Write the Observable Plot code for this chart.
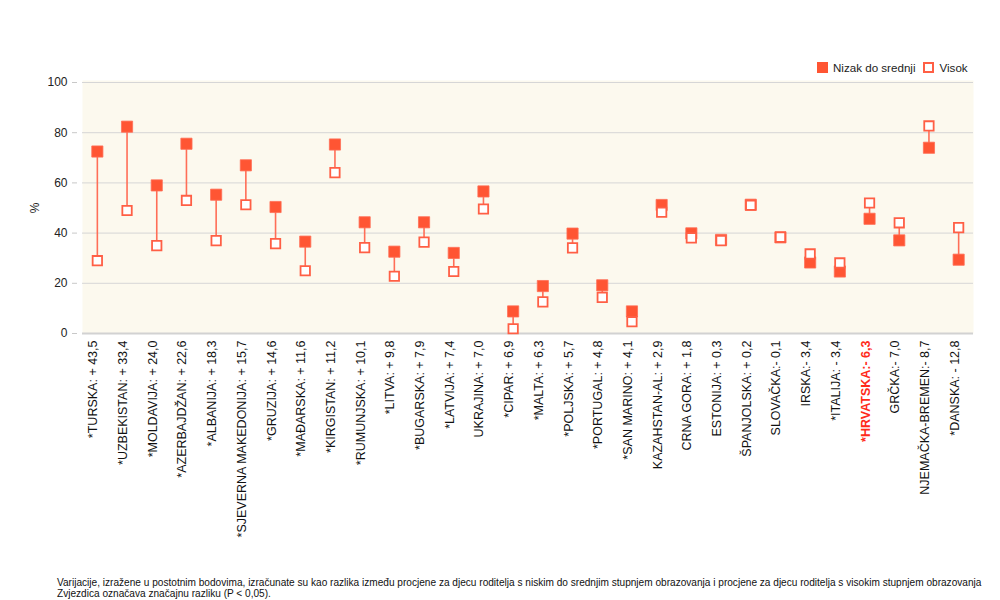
<!DOCTYPE html>
<html>
<head>
<meta charset="utf-8">
<script src="https://cdn.jsdelivr.net/npm/d3@7"></script>
<script src="https://cdn.jsdelivr.net/npm/@observablehq/plot@0.6"></script>
<style>
  body { margin: 0; background: #fff; font-family: "Liberation Sans", Arial, sans-serif; }
  #wrap { position: relative; width: 1000px; height: 600px; }
  #legend { position: absolute; top: 61px; left: 817px; font-size: 11.6px; color: #222; display: flex; align-items: center; white-space: nowrap; }
  .sw { display: inline-block; width: 11px; height: 11px; box-sizing: border-box; margin-right: 5px; }
  #footer { position: absolute; left: 57px; top: 577px; font-size: 10.1px; line-height: 11px; color: #111; white-space: nowrap; }
</style>
</head>
<body>
<div id="wrap">
  <div id="chart"></div>
  <div id="legend">
    <span class="sw" style="background:#FF5533"></span><span>Nizak do srednji</span>
    <span class="sw" style="border:2px solid #FF5F45;background:#fff;margin-left:8px"></span><span>Visok</span>
  </div>
  <div id="footer">Varijacije, izražene u postotnim bodovima, izračunate su kao razlika između procjene za djecu roditelja s niskim do srednjim stupnjem obrazovanja i procjene za djecu roditelja s visokim stupnjem obrazovanja<br>Zvjezdica označava značajnu razliku (P &lt; 0,05).</div>
</div>
<script>
const labels = [
  "*TURSKA: + 43,5", "*UZBEKISTAN: + 33,4", "*MOLDAVIJA: + 24,0", "*AZERBAJDŽAN: + 22,6",
  "*ALBANIJA: + 18,3", "*SJEVERNA MAKEDONIJA: + 15,7", "*GRUZIJA: + 14,6", "*MAĐARSKA: + 11,6",
  "*KIRGISTAN: + 11,2", "*RUMUNJSKA: + 10,1", "*LITVA: + 9,8", "*BUGARSKA: + 7,9",
  "*LATVIJA: + 7,4", "UKRAJINA: + 7,0", "*CIPAR: + 6,9", "*MALTA: + 6,3",
  "*POLJSKA: + 5,7", "*PORTUGAL: + 4,8", "*SAN MARINO: + 4,1", "KAZAHSTAN-AL: + 2,9",
  "CRNA GORA: + 1,8", "ESTONIJA: + 0,3", "ŠPANJOLSKA: + 0,2", "SLOVAČKA:- 0,1",
  "IRSKA:- 3,4", "*ITALIJA: - 3,4", "*HRVATSKA:- 6,3", "GRČKA:- 7,0",
  "NJEMAČKA-BREMEN:- 8,7", "*DANSKA: - 12,8"
];
const lowMid = [72.5, 82.4, 59.0, 75.6, 55.3, 67.0, 50.4, 36.6, 75.3, 44.3,
                32.6, 44.3, 32.1, 56.6, 8.8, 18.9, 39.8, 19.2, 8.8, 51.2,
                39.9, 37.3, 51.3, 38.3, 28.3, 24.7, 45.7, 37.1, 74.0, 29.4];
const high = [29.0, 49.0, 35.0, 53.0, 37.0, 51.3, 35.8, 25.0, 64.1, 34.2,
              22.8, 36.4, 24.7, 49.6, 1.9, 12.6, 34.1, 14.4, 4.7, 48.3,
              38.1, 37.0, 51.1, 38.4, 31.7, 28.1, 52.0, 44.1, 82.7, 42.2];
const highlight = "*HRVATSKA:- 6,3";
const yTicks = [0, 20, 40, 60, 80, 100];

const data = labels.map((l, i) => ({label: l, low: lowMid[i], high: high[i]}));

const chart = Plot.plot({
  width: 1000,
  height: 600,
  marginTop: 82,
  marginBottom: 267,
  marginLeft: 82,
  marginRight: 27,
  style: {fontFamily: "'Liberation Sans', Arial, sans-serif", fontSize: "12px", color: "#222", background: "transparent"},
  x: {domain: labels, type: "band", padding: 0, round: false, axis: null},
  y: {domain: [0, 100], axis: null},
  marks: [
    Plot.frame({fill: "#FCF9EE", stroke: null, insetTop: -2}),
    Plot.gridY(yTicks, {stroke: "#d6d6d6", strokeOpacity: 1, strokeWidth: 1}),
    Plot.ruleY([0], {stroke: "#d2d2d2", strokeWidth: 2}),
    Plot.axisY(yTicks, {tickSize: 5, dx: -5, tickPadding: 5, stroke: "#c8c8c8", fill: "#222", fontSize: 12,
      label: "%", labelAnchor: "center", labelArrow: "none", labelOffset: 52}),
    Plot.ruleX(data, {x: "label", y1: "low", y2: "high", stroke: "#FF6E57", strokeWidth: 1.6}),
    Plot.dot(data, {x: "label", y: "low", symbol: "square", r: 6.3, fill: "#FF5533", stroke: "#FF6E57", strokeWidth: 0.8}),
    Plot.dot(data, {x: "label", y: "high", symbol: "square", r: 5.3, fill: "#fff", stroke: "#FF5F45", strokeWidth: 1.8}),
    Plot.text(data.filter(d => d.label !== highlight), {x: "label", text: "label", frameAnchor: "bottom",
      rotate: -90, textAnchor: "end", dy: 7, fill: "#111", fontSize: 12.5}),
    Plot.text(data.filter(d => d.label === highlight), {x: "label", text: "label", frameAnchor: "bottom",
      rotate: -90, textAnchor: "end", dy: 7, fill: "#FF2A1A", fontSize: 12.5, fontWeight: "bold"})
  ]
});
document.getElementById("chart").appendChild(chart);
</script>
</body>
</html>
